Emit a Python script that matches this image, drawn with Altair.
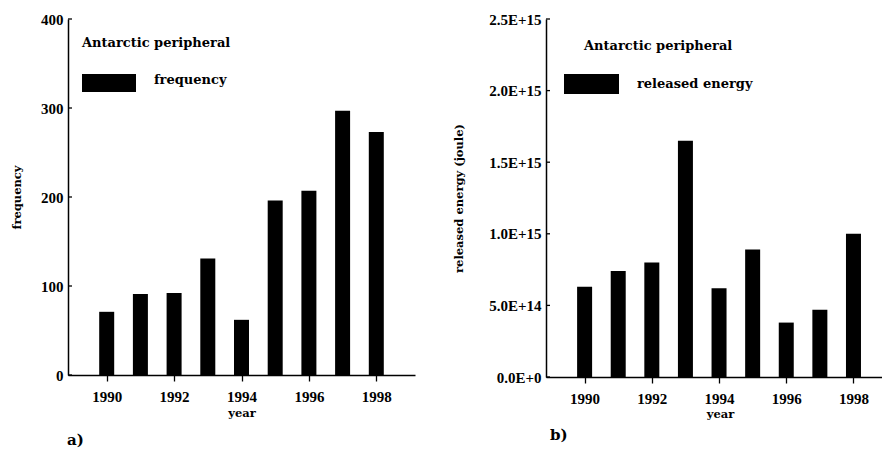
import altair as alt
import pandas as pd

# ---------------- data ----------------
years = [1990, 1991, 1992, 1993, 1994, 1995, 1996, 1997, 1998]
frequency = [71, 91, 92, 131, 62, 196, 207, 297, 273]
energy = [6.3e14, 7.4e14, 8.0e14, 1.65e15, 6.2e14, 8.9e14, 3.8e14, 4.7e14, 1.0e15]
year_ticks = [1990, 1992, 1994, 1996, 1998]
freq_ticks = [0, 100, 200, 300, 400]
energy_ticks = [0, 5e14, 1e15, 1.5e15, 2e15, 2.5e15]
legend_title = "Antarctic peripheral"
label_a = "frequency"
label_b = "released energy"

SERIF = "DejaVu Serif"
TICKFONT = "Liberation Serif"

LEFT, TOP = 68, 19
W1, H1 = 347, 356
SPACING = 131
W2, H2 = 336, 358
PAGE_W, PAGE_H = 882, 453


def text_layer(txt, x, y, size=13, font=SERIF):
    return alt.Chart(pd.DataFrame({"t": [txt]})).mark_text(
        align="left", baseline="middle", font=font, fontWeight="bold",
        fontSize=size, color="black"
    ).encode(text="t:N", x=alt.value(x), y=alt.value(y))


def rect(x, x2, y, y2, color="black"):
    return alt.Chart(pd.DataFrame({"s": [1]})).mark_rect(color=color).encode(
        x=alt.value(x), x2=alt.value(x2), y=alt.value(y), y2=alt.value(y2)
    )


# ---------------- panel a ----------------
df1 = pd.DataFrame({"year": years, "frequency": frequency})
xs1 = alt.Scale(domain=[1989, 1999], nice=False, zero=False)
ys1 = alt.Scale(domain=[0, 400], nice=False)
yaxis1 = alt.Axis(values=freq_ticks, title="frequency", titleX=-51,
                  titleY=H1 / 2, titleAngle=-90, titleBaseline="middle",
                  titleAlign="center", ticks=False, tickSize=0,
                  labelPadding=5)

bars1 = alt.Chart(df1).mark_bar(size=15, color="black").encode(
    x=alt.X("year:Q", scale=xs1,
            axis=alt.Axis(values=year_ticks, format="d", title="year",
                          titleX=W1 / 2, titleY=38, titleBaseline="middle",
                          titleAlign="center", tickSize=6, labelPadding=8)),
    y=alt.Y("frequency:Q", scale=ys1, axis=yaxis1),
)
ticks1 = alt.Chart(pd.DataFrame({"frequency": freq_ticks})).mark_rule(
    color="black", strokeWidth=1.3
).encode(y=alt.Y("frequency:Q", scale=ys1, axis=yaxis1),
         x=alt.value(0), x2=alt.value(4))

panel_a = alt.layer(
    bars1, ticks1,
    text_layer(legend_title, 14, 24),
    rect(14, 68, 55, 73),
    text_layer(label_a, 86, 61),
    text_layer("a)", -1, 421, size=15),
    # invisible anchor at the page's top-left corner
    rect(-LEFT, -LEFT + 1, -TOP, -TOP + 1, color="white"),
).properties(width=W1, height=H1)

# ---------------- panel b ----------------
df2 = pd.DataFrame({"year": years, "energy": energy})
xs2 = alt.Scale(domain=[1989, 1998.7], nice=False, zero=False)
ys2 = alt.Scale(domain=[0, 2.5e15], nice=False)
yaxis2 = alt.Axis(values=energy_ticks, title="released energy (joule)",
                  labelExpr="replace(format(datum.value, '.1e'), 'e', 'E')",
                  titleX=-87, titleY=H2 / 2, titleAngle=-90,
                  titleBaseline="middle", titleAlign="center",
                  ticks=False, tickSize=0, labelPadding=5)

bars2 = alt.Chart(df2).mark_bar(size=15, color="black").encode(
    x=alt.X("year:Q", scale=xs2,
            axis=alt.Axis(values=year_ticks, format="d", title="year",
                          titleX=174, titleY=37, titleBaseline="middle",
                          titleAlign="center", tickSize=6, labelPadding=8)),
    y=alt.Y("energy:Q", scale=ys2, axis=yaxis2),
)
ticks2 = alt.Chart(pd.DataFrame({"energy": energy_ticks})).mark_rule(
    color="black", strokeWidth=1.3
).encode(y=alt.Y("energy:Q", scale=ys2, axis=yaxis2),
         x=alt.value(0), x2=alt.value(4))

panel_b = alt.layer(
    bars2, ticks2,
    text_layer(legend_title, 38, 27),
    rect(18, 73, 55, 75),
    text_layer(label_b, 91, 65),
    text_layer("b)", 4, 416, size=15),
    # invisible anchor at the page's bottom-right corner
    rect(W2 - 1, W2, PAGE_H - TOP - 1, PAGE_H - TOP, color="white"),
).properties(width=W2, height=H2)

chart = alt.hconcat(panel_a, panel_b, spacing=SPACING, bounds="flush").properties(
    padding=0,
    background="white",
).configure_view(stroke=None).configure_axis(
    grid=False,
    domainColor="black",
    domainWidth=1.5,
    tickColor="black",
    tickWidth=1.3,
    labelFont=TICKFONT,
    labelFontWeight="bold",
    labelFontSize=15,
    labelColor="black",
    titleFont=SERIF,
    titleFontWeight="bold",
    titleFontSize=11.5,
    titleColor="black",
)

chart.save("out.html", embed_options={"renderer": "svg", "actions": False})
